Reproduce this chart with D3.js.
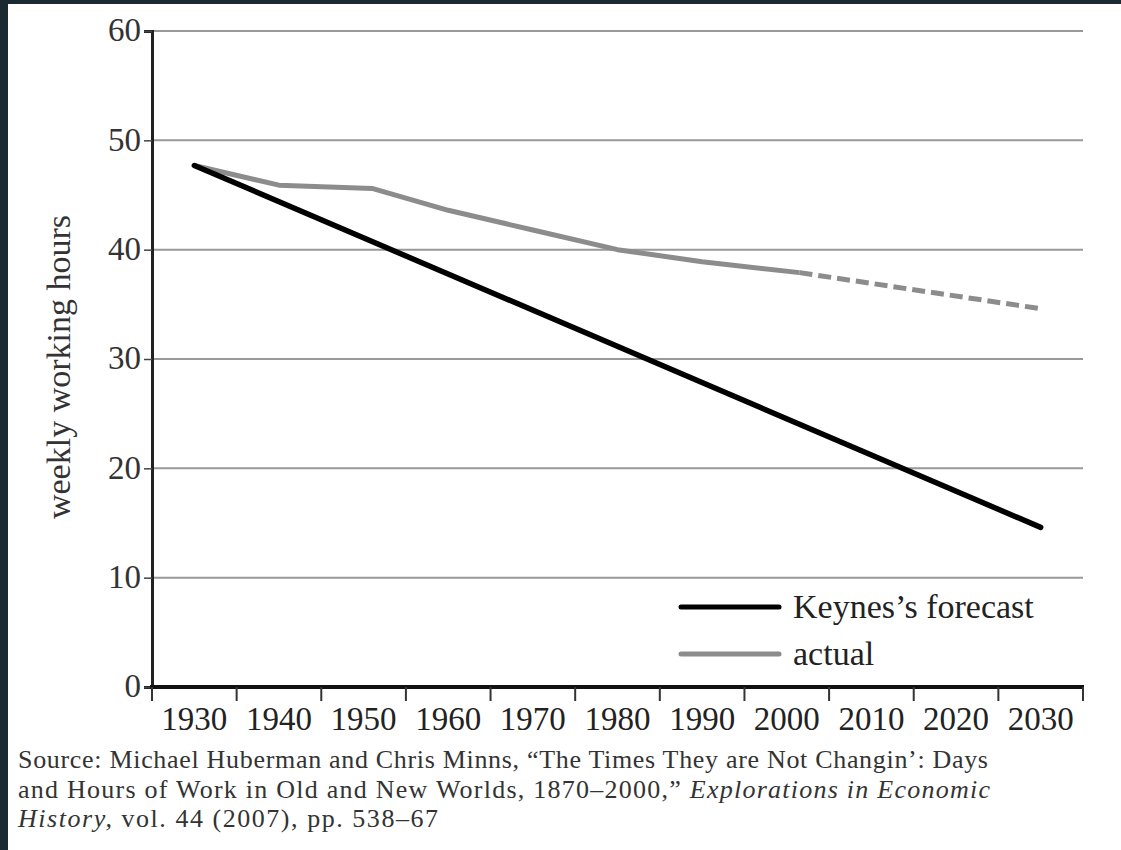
<!DOCTYPE html>
<html>
<head>
<meta charset="utf-8">
<script src="https://cdn.jsdelivr.net/npm/d3@7"></script>
<style>
  html, body { margin: 0; padding: 0; background: #1b2a30; }
  svg { display: block; }
  text { font-family: "Liberation Serif", "DejaVu Serif", serif; }
</style>
</head>
<body>
<div id="chart"></div>
<script>
const svgWidth = 1121;
const svgHeight = 850;

// decades shown on the x axis
const decades = [1930, 1940, 1950, 1960, 1970, 1980, 1990, 2000, 2010, 2020, 2030];
const yTicks = [0, 10, 20, 30, 40, 50, 60];

// Keynes's forecast (straight line 1930 -> 2030)
const keynesYears = [1930, 2030];
const keynesHours = [47.7, 14.6];

// actual weekly hours
const actualYears = [1930, 1940, 1951, 1960, 1970, 1980, 1990, 2001.5];
const actualHours = [47.7, 45.9, 45.6, 43.6, 41.8, 40.0, 38.9, 37.9];

// dashed continuation of the actual trend
const trendYears = [2001.5, 2030];
const trendHours = [37.9, 34.6];

// source note, with the width each line takes in the print
const sourceLines = [
  [{ t: "Source: Michael Huberman and Chris Minns, \u201CThe Times They are Not Changin\u2019: Days" }],
  [{ t: "and Hours of Work in Old and New Worlds, 1870\u20132000,\u201D " }, { t: "Explorations in Economic", i: true }],
  [{ t: "History,", i: true }, { t: " vol. 44 (2007), pp. 538\u201367" }]
];
const sourceWidths = [970, 972, 420];

const margin = { top: 31, left: 152, right: 38, bottom: 163 };
const x0 = margin.left, x1 = svgWidth - margin.right;
const y0 = svgHeight - margin.bottom, y1 = margin.top;

const svg = d3.select("#chart")
  .append("svg")
  .attr("width", svgWidth)
  .attr("height", svgHeight);

// white paper with dark frame on top / left
svg.append("rect")
  .attr("x", 8).attr("y", 4)
  .attr("width", svgWidth - 8).attr("height", svgHeight - 4)
  .attr("fill", "#ffffff");

// band scale for decade labels, linear scale for the data
const xBand = d3.scaleBand().domain(decades).range([x0, x1]);
const xScale = d3.scaleLinear()
  .domain([1930, 2030])
  .range([x0 + xBand.bandwidth() / 2, x1 - xBand.bandwidth() / 2]);
const yScale = d3.scaleLinear().domain([0, 60]).range([y0, y1]);

// gridlines
svg.append("g")
  .selectAll("line")
  .data(yTicks.filter(d => d > 0))
  .enter()
  .append("line")
  .attr("x1", x0).attr("x2", x1)
  .attr("y1", d => yScale(d)).attr("y2", d => yScale(d))
  .attr("stroke", "#999")
  .attr("stroke-width", 2);

// y axis
const yAxis = svg.append("g")
  .attr("transform", `translate(${x0},0)`)
  .call(d3.axisLeft(yScale).tickValues(yTicks).tickSize(8).tickPadding(3));
yAxis.select(".domain").attr("stroke", "#222").attr("stroke-width", 3);
yAxis.selectAll(".tick line").attr("stroke", "#444").attr("stroke-width", 1.5);
yAxis.selectAll(".tick text")
  .attr("font-family", "Liberation Serif, serif")
  .attr("font-size", 33)
  .attr("dy", "0.3em")
  .attr("fill", "#333");

// x axis: ticks at band boundaries, labels centred in bands
const xAxis = svg.append("g")
  .attr("transform", `translate(0,${y0})`);
xAxis.append("line")
  .attr("x1", x0 - 2).attr("x2", x1 + 1)
  .attr("y1", 0).attr("y2", 0)
  .attr("stroke", "#111")
  .attr("stroke-width", 4);
xAxis.selectAll("line.tick")
  .data(decades.map(d => xBand(d)).concat([x1]))
  .enter()
  .append("line")
  .attr("class", "tick")
  .attr("x1", d => d).attr("x2", d => d)
  .attr("y1", 0).attr("y2", 14)
  .attr("stroke", "#333")
  .attr("stroke-width", 2);
xAxis.selectAll("text")
  .data(decades)
  .enter()
  .append("text")
  .attr("x", d => xBand(d) + xBand.bandwidth() / 2)
  .attr("y", 43)
  .attr("text-anchor", "middle")
  .attr("font-size", 33)
  .attr("fill", "#222")
  .text(d => d);

// y axis title
svg.append("text")
  .attr("transform", `translate(70, ${(y0 + y1) / 2 + 8}) rotate(-90)`)
  .attr("text-anchor", "middle")
  .attr("font-size", 34)
  .attr("fill", "#333")
  .text("weekly working hours");

const line = d3.line()
  .x(d => xScale(d[0]))
  .y(d => yScale(d[1]));

// actual line
svg.append("path")
  .datum(d3.zip(actualYears, actualHours))
  .attr("d", line)
  .attr("fill", "none")
  .attr("stroke", "#8c8c8c")
  .attr("stroke-width", 5)
  .attr("stroke-linejoin", "round");

svg.append("path")
  .datum(d3.zip(trendYears, trendHours))
  .attr("d", line)
  .attr("fill", "none")
  .attr("stroke", "#8c8c8c")
  .attr("stroke-width", 5)
  .attr("stroke-dasharray", "13,6");

// Keynes's forecast
svg.append("path")
  .datum(d3.zip(keynesYears, keynesHours))
  .attr("d", line)
  .attr("fill", "none")
  .attr("stroke", "#000")
  .attr("stroke-width", 5.5)
  .attr("stroke-linecap", "round");

// legend
const legend = svg.append("g").attr("transform", "translate(681, 607)");
const legendItems = [
  { label: "Keynes\u2019s forecast", color: "#000" },
  { label: "actual", color: "#8c8c8c" }
];
legendItems.forEach((item, i) => {
  legend.append("line")
    .attr("x1", 0).attr("x2", 98)
    .attr("y1", i * 47).attr("y2", i * 47)
    .attr("stroke", item.color)
    .attr("stroke-width", 5)
    .attr("stroke-linecap", "round");
  legend.append("text")
    .attr("x", 112)
    .attr("y", i * 47 + 11)
    .attr("font-size", 34)
    .attr("fill", "#222")
    .text(item.label);
});

// source note
const src = svg.append("g");
sourceLines.forEach((parts, i) => {
  const t = src.append("text")
    .attr("x", 18)
    .attr("y", 768 + i * 29.5)
    .attr("font-size", 26)
    .attr("fill", "#333")
    .attr("textLength", sourceWidths[i])
    .attr("lengthAdjust", "spacing");
  parts.forEach(p => {
    t.append("tspan")
      .attr("font-style", p.i ? "italic" : "normal")
      .text(p.t);
  });
});
</script>
</body>
</html>
